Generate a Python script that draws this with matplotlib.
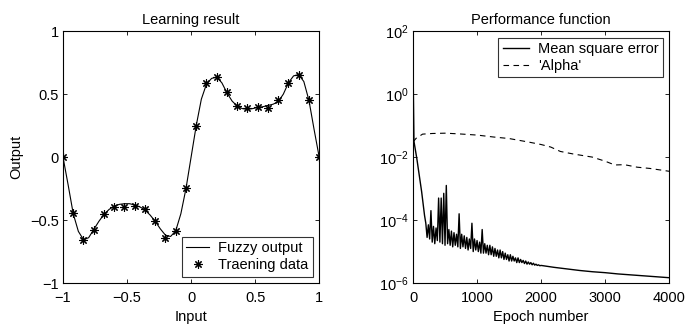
import matplotlib
matplotlib.use("Agg")
import numpy as np
from matplotlib import pyplot as plt
from matplotlib.ticker import FixedLocator, FuncFormatter, NullLocator

plt.rcParams["font.family"] = ["Liberation Sans", "DejaVu Sans"]
plt.rcParams["font.size"] = 10.5
plt.rcParams["mathtext.fontset"] = "custom"
plt.rcParams["mathtext.rm"] = "Liberation Sans"

# training data (asterisks)
train_x = [-1.0, -0.92, -0.84, -0.76, -0.68, -0.6, -0.52, -0.44, -0.36, -0.28, -0.2, -0.12, -0.04,
           0.04, 0.12, 0.2, 0.28, 0.36, 0.44, 0.52, 0.6, 0.68, 0.76, 0.84, 0.92, 1.0]
train_y = [0.0, -0.44, -0.655, -0.58, -0.455, -0.396, -0.40, -0.39, -0.41, -0.51, -0.645, -0.59, -0.245,
           0.248, 0.59, 0.637, 0.515, 0.407, 0.39, 0.396, 0.39, 0.45, 0.59, 0.652, 0.455, 0.0]

# fuzzy output curve, read every 0.04
fuzzy_x = [-1.0, -0.96, -0.92, -0.88, -0.84, -0.8, -0.76, -0.72, -0.68, -0.64, -0.6, -0.56, -0.52,
           -0.48, -0.44, -0.4, -0.36, -0.32, -0.28, -0.24, -0.2, -0.16, -0.12, -0.08, -0.04, 0.0,
           0.04, 0.08, 0.12, 0.16, 0.2, 0.24, 0.28, 0.32, 0.36, 0.4, 0.44, 0.48, 0.52, 0.56, 0.6,
           0.64, 0.68, 0.72, 0.76, 0.8, 0.84, 0.88, 0.92, 0.96, 1.0]
fuzzy_y = [0.0, -0.22, -0.45, -0.59, -0.655, -0.64, -0.575, -0.51, -0.455, -0.415, -0.39, -0.375, -0.37,
           -0.37, -0.38, -0.395, -0.42, -0.46, -0.51, -0.57, -0.62, -0.63, -0.585, -0.45, -0.25, 0.0,
           0.25, 0.46, 0.58, 0.625, 0.635, 0.59, 0.51, 0.445, 0.405, 0.385, 0.38, 0.385, 0.395, 0.40, 0.41,
           0.42, 0.44, 0.50, 0.59, 0.645, 0.655, 0.60, 0.45, 0.22, 0.0]

# mean square error, log10 values
mse_epoch = [0, 15, 60, 135] + list(range(180, 2001, 20)) + [2200, 2400, 2600, 2800, 3000, 3200, 3400, 3600, 3800, 4000]
mse_log = [1.0, -1.5, -2.05, -3.1,
           -3.85, -4.1, -4.55, -4.15, -4.6, -3.7, -4.7, -4.2, -4.75, -4.25, -4.65,
           -3.3, -4.7, -3.3, -4.75, -3.15, -4.8, -2.9, -4.75, -4.3, -4.8, -4.35,
           -4.85, -4.4, -4.8, -4.45, -4.85, -3.8, -4.9, -4.45, -4.85, -4.5,
           -4.9, -4.55, -4.95, -4.6, -4.9, -4.1, -5.0, -4.6, -4.95, -4.65,
           -5.0, -4.7, -5.05, -4.3, -5.05, -4.75, -5.05, -4.8, -5.1, -4.8,
           -5.1, -4.85, -5.15, -4.9, -5.15, -4.95, -5.2, -4.95, -5.2, -5.0,
           -5.25, -5.05, -5.25, -5.1, -5.3, -5.1, -5.3, -5.15, -5.3, -5.2,
           -5.35, -5.2, -5.35, -5.25, -5.35, -5.28, -5.38, -5.3, -5.4, -5.33,
           -5.4, -5.35, -5.42, -5.37, -5.43, -5.4, -5.44, -5.42, -5.45, -5.44,
           -5.5, -5.55, -5.6, -5.64, -5.67, -5.71, -5.74, -5.77, -5.8, -5.83]

# 'Alpha', log10 values
alpha_epoch = [0, 50, 150, 300, 500, 700, 1000, 1250, 1500, 1800, 2000, 2150, 2300, 2500, 2800,
               3000, 3150, 3300, 3500, 3700, 4000]
alpha_log = [-1.52, -1.4, -1.27, -1.25, -1.24, -1.26, -1.3, -1.36, -1.41, -1.52, -1.6, -1.68, -1.82,
             -1.9, -2.0, -2.13, -2.25, -2.24, -2.32, -2.36, -2.45]

fig = plt.figure(figsize=(7, 3.28), dpi=100)
ax1 = fig.add_axes([0.09, 0.137, 0.366, 0.768])
ax2 = fig.add_axes([0.59, 0.137, 0.366, 0.768])

# left: learning result
ax1.plot(fuzzy_x, fuzzy_y, color="k", lw=0.8, label="Fuzzy output")
ax1.plot(train_x, train_y, ls="none", marker=(8, 2, 0), ms=6, mew=0.8, color="k", label="Traening data")
ax1.set_xlim(-1, 1)
ax1.set_ylim(-1, 1)
ticks = [-1, -0.5, 0, 0.5, 1]
ax1.set_xticks(ticks)
ax1.set_yticks(ticks)
ax1.set_xticklabels(["\u22121", "\u22120.5", "0", "0.5", "1"])
ax1.set_yticklabels(["\u22121", "\u22120.5", "0", "0.5", "1"])
ax1.set_title("Learning result", fontsize=10.5, pad=5)
ax1.set_xlabel("Input", labelpad=3)
ax1.set_ylabel("Output", labelpad=5)
leg1 = ax1.legend(loc="lower right", fancybox=False, handlelength=1.6, borderpad=0.3,
                  labelspacing=0.2, handletextpad=0.6, borderaxespad=0.45)
leg1.get_frame().set_edgecolor("k")
leg1.get_frame().set_linewidth(0.8)

# right: performance function
ax2.semilogy(mse_epoch, 10.0 ** np.array(mse_log), color="k", lw=1.0, label="Mean square error")
ax2.semilogy(alpha_epoch, 10.0 ** np.array(alpha_log), color="k", lw=0.8, dashes=(5, 4), label="'Alpha'")
ax2.set_xlim(0, 4000)
ax2.set_ylim(1e-6, 1e2)
ax2.set_xticks([0, 1000, 2000, 3000, 4000])
ax2.yaxis.set_major_locator(FixedLocator([1e-6, 1e-4, 1e-2, 1e0, 1e2]))
ax2.yaxis.set_minor_locator(NullLocator())
ax2.yaxis.set_major_formatter(FuncFormatter(lambda v, p: r"$\mathregular{10^{%d}}$" % round(np.log10(v))))
ax2.set_title("Performance function", fontsize=10.5, pad=5)
ax2.set_xlabel("Epoch number", labelpad=3)
leg2 = ax2.legend(loc="upper right", fancybox=False, handlelength=1.8, borderpad=0.3,
                  labelspacing=0.2, handletextpad=0.6, borderaxespad=0.45)
leg2.get_frame().set_edgecolor("k")
leg2.get_frame().set_linewidth(0.8)

for ax in (ax1, ax2):
    ax.tick_params(direction="in", top=True, right=True, length=3, width=0.6, labelsize=10.5)
    ax.tick_params(axis="x", pad=6)
    ax.tick_params(axis="y", pad=3)
    for s in ax.spines.values():
        s.set_linewidth(0.8)

fig.savefig("out.png", dpi=100)
